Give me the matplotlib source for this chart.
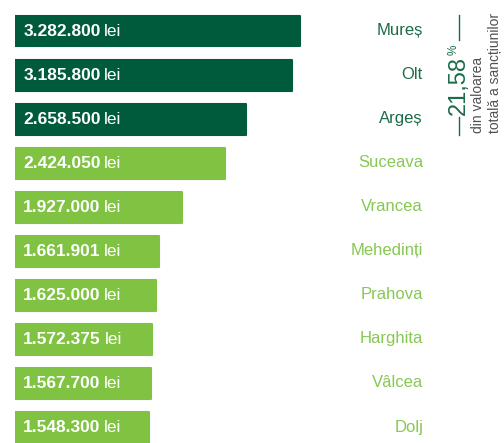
import matplotlib
matplotlib.use("Agg")
import matplotlib.pyplot as plt
from matplotlib.transforms import blended_transform_factory

counties = ["Mureș", "Olt", "Argeș", "Suceava", "Vrancea", "Mehedinți",
            "Prahova", "Harghita", "Vâlcea", "Dolj"]
values = [3282800, 3185800, 2658500, 2424050, 1927000, 1661901,
          1625000, 1572375, 1567700, 1548300]
value_labels = ["3.282.800", "3.185.800", "2.658.500", "2.424.050", "1.927.000",
                "1.661.901", "1.625.000", "1.572.375", "1.567.700", "1.548.300"]
unit = "lei"
top_group = 3  # first three counties highlighted
share_value = "21,58"
share_sign = "%"
share_line1 = "din valoarea"
share_line2 = "totală a sancțiunilor"

DARK = "#005A3C"
LIGHT = "#80C342"
DARK_TXT = "#1C6C47"
LIGHT_TXT = "#86C853"
GREY = "#505050"

W, H = 504, 443
fig = plt.figure(figsize=(W / 100, H / 100), dpi=100)
fig.patch.set_facecolor("white")

ax_left, ax_right = 15, 423
ax = fig.add_axes([ax_left / W, 0, (ax_right - ax_left) / W, 1])
ax.set_axis_off()
scale_px = 285 / values[0]
ax.set_xlim(0, (ax_right - ax_left) / scale_px)
step = 44.1
first_center = 31
ax.set_ylim((H - first_center) / step, -first_center / step)

FONT = ["Liberation Sans", "DejaVu Sans"]

for i, (c, v, lab) in enumerate(zip(counties, values, value_labels)):
    col = DARK if i < top_group else LIGHT
    tcol = DARK_TXT if i < top_group else LIGHT_TXT
    ax.barh(i, v, height=0.70, color=col, edgecolor=col, linewidth=1.5,
            joinstyle="round")
    t = ax.annotate(lab, xy=(0, i), xytext=(6, 0), textcoords="offset points",
                    ha="left", va="center", color="white", fontsize=12.5,
                    fontweight="bold", family=FONT)
    ax.annotate(unit, xy=(1, 0.5), xycoords=t, xytext=(2.5, 0),
                textcoords="offset points", ha="left", va="center",
                color="white", fontsize=12.5, family=FONT)
    tr = blended_transform_factory(ax.transAxes, ax.transData)
    ax.text(1.0, i - 0.02, c, transform=tr, ha="right", va="center",
            color=tcol, fontsize=12, family=FONT)


def fx(px):
    return px / W


def fy(py):
    return 1 - py / H


fig.add_artist(plt.Line2D([fx(458.5), fx(458.5)], [fy(15), fy(40)],
                          color=DARK_TXT, lw=1.0))
fig.add_artist(plt.Line2D([fx(458.5), fx(458.5)], [fy(117), fy(135)],
                          color=DARK_TXT, lw=1.0))
fig.text(fx(459), fy(115), share_value, rotation=90, ha="center", va="bottom",
         color=DARK_TXT, fontsize=17, family=FONT)
fig.text(fx(454), fy(55), share_sign, rotation=90, ha="center", va="bottom",
         color=DARK_TXT, fontsize=8.5, family=FONT)
fig.text(fx(478), fy(133), share_line1, rotation=90, ha="center", va="bottom",
         color=GREY, fontsize=10, family=FONT)
fig.text(fx(495), fy(133), share_line2, rotation=90, ha="center", va="bottom",
         color=GREY, fontsize=10, family=FONT)

fig.savefig("out.png", dpi=100, facecolor="white")
